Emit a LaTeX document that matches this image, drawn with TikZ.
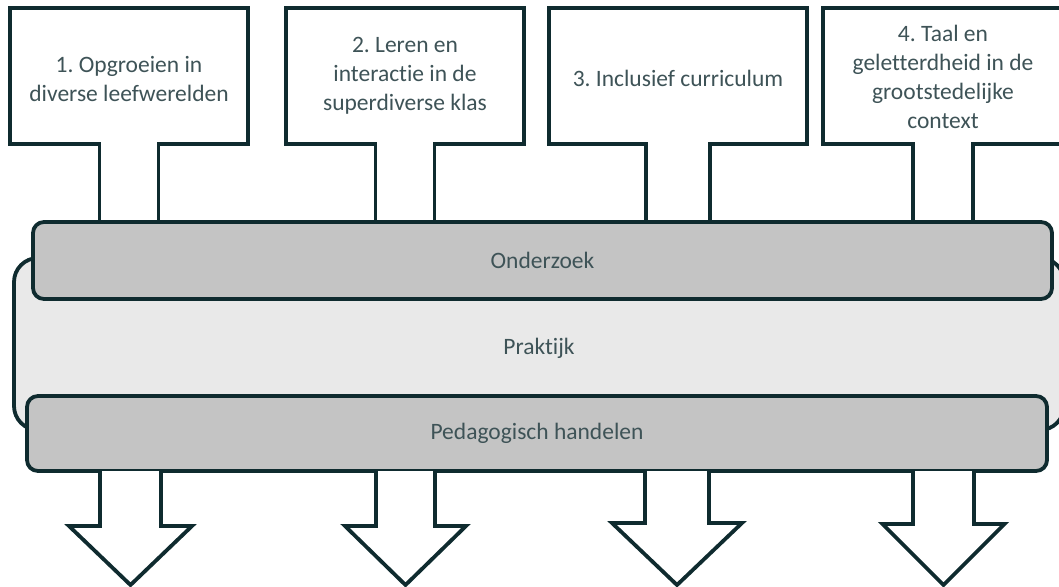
\documentclass[tikz,border=0pt]{standalone}
\usepackage{fontspec}
\setmainfont{Carlito}[Ligatures=CommonOff]
\frenchspacing
\definecolor{edge}{HTML}{0F2B2F}
\definecolor{ink}{HTML}{3E5357}
\definecolor{bandgrey}{HTML}{C4C4C4}
\definecolor{bandlight}{HTML}{E9E9E9}
\tikzset{
  outline/.style={draw=edge, line width=3.8pt, fill=white, line join=miter},
  label/.style={text=ink, font=\fontsize{23.5}{29}\selectfont, align=center, inner sep=0pt},
  topbox/.style={minimum height=136pt, inner sep=0pt},
  band/.style={draw=edge, line width=3.8pt, rounded corners=11pt, label},
}
\begin{document}
\begin{tikzpicture}[x=1pt, y=-1pt]
\useasboundingbox (0,0) rectangle (1059,586);

% middle band, behind the two grey bands
\node[band, fill=bandlight, rounded corners=24pt, minimum width=1050pt, minimum height=172pt]
  (prak) at (539,344) {};
\node[label] (prakt) at ([yshift=-4pt]prak.center) {Praktijk};

% frames of the four theme boxes
\node[topbox, minimum width=238pt] (b1) at (129,76) {};
\node[topbox, minimum width=238pt] (b2) at (405,76) {};
\node[topbox, minimum width=258pt] (b3) at (678,76) {};
\node[topbox, minimum width=240pt] (b4) at (943,76) {};

% each box outline runs on into its stem
\foreach \b/\s in {b1/29.5, b2/29.5, b3/32, b4/30} {
  \path (\b.south) ++(-\s,0) coordinate (\b l) ++(2*\s,0) coordinate (\b r);
  \draw[outline] (\b l) ++(0,80) -- (\b l) -- (\b.south west) -- (\b.north west)
    -- (\b.north east) -- (\b.south east) -- (\b r) -- ++(0,80);
}

% box texts on top of the white fill
\node[label] (t1) at ([yshift=-3pt]b1.center) {1. Opgroeien in\\diverse leefwerelden};
\node[label] (t2) at (b2.center) {2. Leren en\\interactie in de\\superdiverse klas};
\node[label] (t3) at ([yshift=-2pt]b3.center) {3. Inclusief curriculum};
\node[label] (t4) at ([yshift=-1pt]b4.center) {4. Taal en\\geletterdheid in de\\grootstedelijke\\context};

% research and pedagogy bands
\node[band, fill=bandgrey, minimum width=1019pt, minimum height=77pt]
  (ond) at (542.5,260.5) {Onderzoek};
\node[band, fill=bandgrey, minimum width=1020pt, minimum height=75pt]
  (ped) at (537,433.5) {Pedagogisch handelen};

% outgoing arrows below the pedagogy band
\foreach \n/\cx/\s/\h/\sh in {1/130.5/30.5/61.5/526, 2/405.5/29.5/60.5/526, 3/677/32/65/523, 4/943.5/30.5/61/524} {
  \coordinate (tip\n) at (\cx,585);
  \draw[outline] (tip\n) ++(-\s,-114) -- ++(0,{\sh-471}) -- ++({\s-\h},0) -- (tip\n)
    -- ++(\h,{\sh-585}) -- ++({\s-\h},0) -- ++(0,{471-\sh});
}
\end{tikzpicture}
\end{document}
